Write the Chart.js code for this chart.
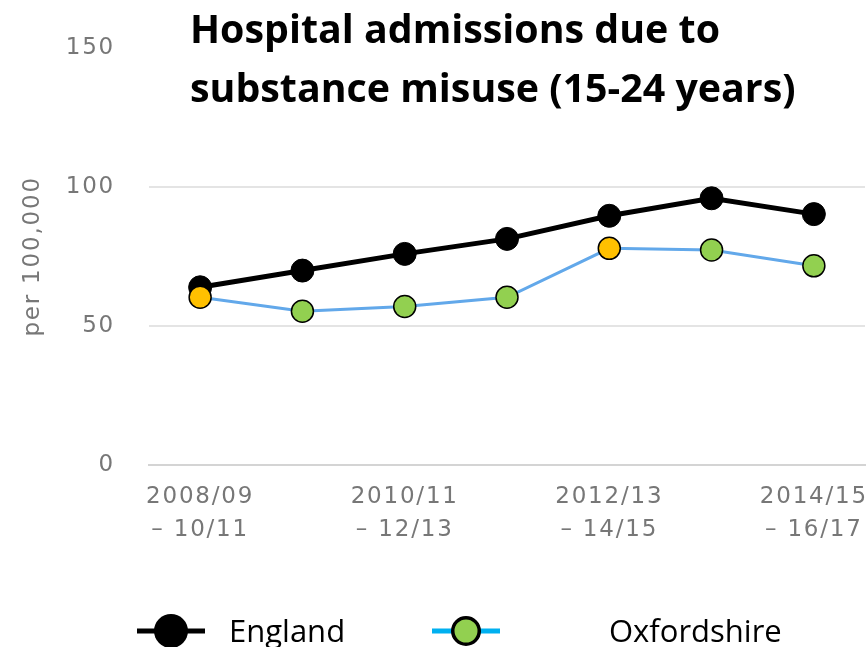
<!DOCTYPE html>
<html>
<head>
<meta charset="utf-8">
<script src="https://cdn.jsdelivr.net/npm/chart.js@4.4.1/dist/chart.umd.min.js"></script>
<style>
  html, body { margin: 0; padding: 0; background: #fff; overflow: hidden; }
  #chart { display: block; }
</style>
</head>
<body>
<canvas id="chart" width="868" height="647"></canvas>
<script>
// --- DATA ---
const periods = [
    '2008/09 – 10/11', '2009/10 – 11/12', '2010/11 – 12/13', '2011/12 – 13/14',
    '2012/13 – 14/15', '2013/14 – 15/16', '2014/15 – 16/17'
];
const englandValues = [63.9, 69.9, 75.9, 81.3, 89.6, 95.9, 90.2];
const oxfordshireValues = [60.3, 55.3, 57.0, 60.3, 77.9, 77.3, 71.6];
// comparison with England (Fingertips style RAG)
const oxfordshireCompared = ['similar', 'better', 'better', 'better', 'similar', 'better', 'better'];
const yTicks = [0, 50, 100, 150];
const titleLines = ['Hospital admissions due to', 'substance misuse (15-24 years)'];
const yAxisTitle = 'per 100,000';

const compareColours = { better: '#92D050', similar: '#FFC000', worse: '#C00000' };

// --- TITLE + LEGEND (drawn on top of the plot, like the slide) ---
const overlayPlugin = {
    id: 'overlay',
    beforeDraw(chart) {
        chart.ctx.letterSpacing = '1.8px';
    },
    afterDraw(chart) {
        const ctx = chart.ctx;
        ctx.save();
        ctx.letterSpacing = '0px';

        // title, squeezed a little to look like Calibri
        ctx.font = 'bold 40px "Open Sans", sans-serif';
        ctx.fillStyle = '#000';
        ctx.textBaseline = 'alphabetic';
        ctx.textAlign = 'left';
        const sx = 530 / ctx.measureText(titleLines[0]).width;
        ctx.save();
        ctx.translate(190, 0);
        ctx.scale(sx, 1);
        ctx.fillText(titleLines[0], 0, 43);
        ctx.fillText(titleLines[1], 0, 102);
        ctx.restore();

        // legend
        const sets = chart.data.datasets;
        const items = [
            { ds: sets[0], x: 137, text: 229, line: '#000', lw: 5, r: 17, fill: '#000', bw: 0 },
            { ds: sets[1], x: 432, text: 609, line: '#00B0F0', lw: 5, r: 15, fill: '#92D050', bw: 3.5 }
        ];
        const ly = 631;
        items.forEach(it => {
            ctx.strokeStyle = it.line;
            ctx.lineWidth = it.lw;
            ctx.beginPath();
            ctx.moveTo(it.x, ly);
            ctx.lineTo(it.x + 68, ly);
            ctx.stroke();
            ctx.beginPath();
            ctx.arc(it.x + 34, ly, it.r - it.bw / 2, 0, Math.PI * 2);
            ctx.fillStyle = it.fill;
            ctx.fill();
            if (it.bw) {
                ctx.lineWidth = it.bw;
                ctx.strokeStyle = '#000';
                ctx.stroke();
            }
            ctx.fillStyle = '#000';
            ctx.font = '31px "Open Sans", sans-serif';
            ctx.fillText(it.ds.label, it.text, 642);
        });
        ctx.restore();
    }
};

// --- CHART ---
const tickFont = { family: '"DejaVu Sans", sans-serif', size: 23 };
const ctx = document.getElementById('chart').getContext('2d');
new Chart(ctx, {
    type: 'line',
    data: {
        labels: periods,
        datasets: [
            {
                label: 'England',
                data: englandValues,
                borderColor: '#000',
                borderWidth: 5,
                pointBackgroundColor: '#000',
                pointBorderColor: '#000',
                pointBorderWidth: 1,
                pointRadius: 11.5,
                tension: 0,
                order: 2
            },
            {
                label: 'Oxfordshire',
                data: oxfordshireValues,
                borderColor: '#62A8EA',
                borderWidth: 3,
                pointBackgroundColor: oxfordshireCompared.map(c => compareColours[c]),
                pointBorderColor: '#000',
                pointBorderWidth: 1.5,
                pointRadius: 11,
                tension: 0,
                order: 1
            }
        ]
    },
    options: {
        responsive: false,
        animation: false,
        events: [],
        layout: { autoPadding: false, padding: { top: 46, right: 3, bottom: 82, left: 0 } },
        plugins: {
            legend: { display: false },
            title: { display: false },
            tooltip: { enabled: false }
        },
        scales: {
            x: {
                offset: true,
                afterFit: s => { s.height = 100; s.paddingLeft = 0; s.paddingRight = 0; },
                grid: { display: false, drawTicks: false },
                border: { display: true, color: '#d4d4d4', width: 2 },
                ticks: {
                    autoSkip: false,
                    maxRotation: 0,
                    padding: 15,
                    color: '#777',
                    font: { ...tickFont, lineHeight: 1.45 },
                    callback: function (value, index) {
                        if (index % 2) return '';
                        const parts = this.getLabelForValue(value).split(' – ');
                        return [parts[0], '– ' + parts[1]];
                    }
                }
            },
            y: {
                min: 0,
                max: 150,
                afterFit: s => { s.width = 149; },
                afterBuildTicks: s => { s.ticks = yTicks.map(v => ({ value: v })); },
                grid: {
                    drawTicks: false,
                    lineWidth: 2,
                    color: c => (c.tick && c.tick.value === 0) || (c.tick && c.tick.value === 150) ? 'rgba(0,0,0,0)' : '#e4e4e4'
                },
                border: { display: false },
                ticks: {
                    padding: 34,
                    color: '#777',
                    font: tickFont
                },
                title: {
                    display: true,
                    text: yAxisTitle,
                    color: '#777',
                    padding: { top: 19, bottom: 0 },
                    font: tickFont
                }
            }
        }
    },
    plugins: [overlayPlugin]
});
</script>
</body>
</html>
